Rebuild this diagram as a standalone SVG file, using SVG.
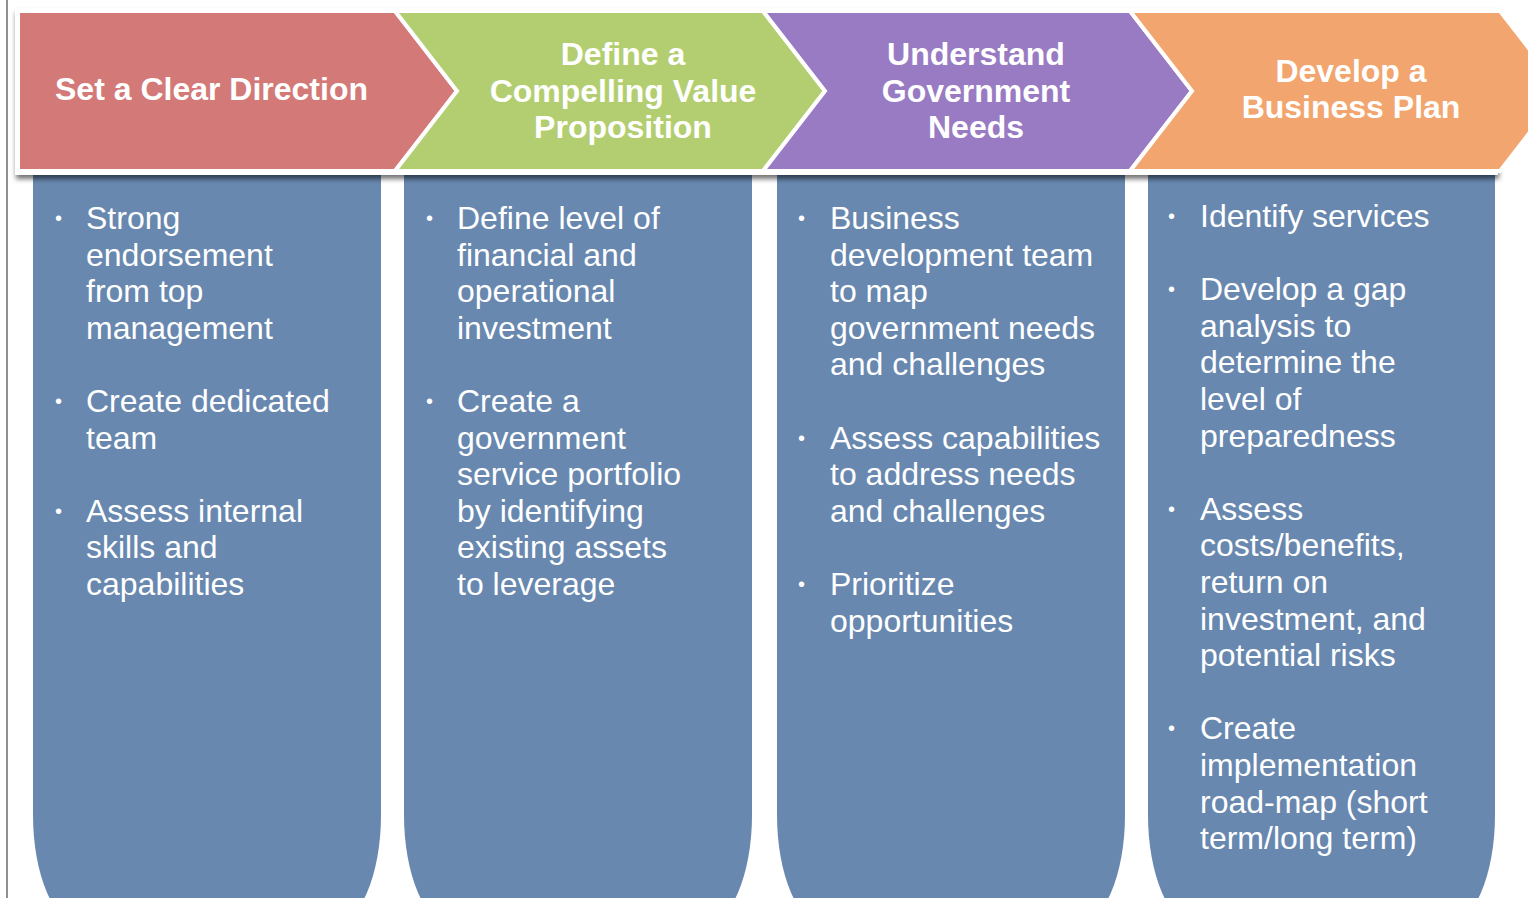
<svg xmlns="http://www.w3.org/2000/svg" width="1528" height="898" viewBox="0 0 1528 898">
<defs>
<filter id="sh" x="-5%" y="-20%" width="110%" height="140%">
<feDropShadow dx="1" dy="4" stdDeviation="2.5" flood-color="#000" flood-opacity="0.55"/>
</filter>
<style>
.col{fill:#6888AF}
.chev{stroke:#fff;stroke-width:4;stroke-linejoin:miter}
.hd{font-family:"Liberation Sans",Arial,sans-serif;font-weight:bold;font-size:32px;fill:#fff}
.bd{font-family:"Liberation Sans",Arial,sans-serif;font-size:32px;fill:#fff}
.bu{font-family:"Liberation Sans",Arial,sans-serif;font-size:20px;fill:#fff}
</style>
</defs>
<rect width="1528" height="898" fill="#fff"/>
<line x1="7" y1="0" x2="7" y2="898" stroke="#6a6a6a" stroke-width="1.5"/>

<g id="columns">
<path class="col" d="M33,172 H381 V815 A48,110 0 0 1 333,925 H81 A48,110 0 0 1 33,815 Z"/>
<path class="col" d="M404,172 H752 V815 A48,110 0 0 1 704,925 H452 A48,110 0 0 1 404,815 Z"/>
<path class="col" d="M777,172 H1125 V815 A48,110 0 0 1 1077,925 H825 A48,110 0 0 1 777,815 Z"/>
<path class="col" d="M1148,172 H1495 V815 A48,110 0 0 1 1447,925 H1196 A48,110 0 0 1 1148,815 Z"/>
</g>

<g id="banner">
<rect x="15" y="8" width="1483" height="167" fill="#fff" filter="url(#sh)"/>
</g>

<g id="step1">
<polygon class="chev" fill="#D37977" points="18,11 395,11 457,91 395,171 18,171"/>
<text class="hd" x="55" y="100">Set a Clear Direction</text>
</g>
<g id="step2">
<polygon class="chev" fill="#B3CE71" points="395,11 763,11 825,91 763,171 395,171 457,91"/>
<text class="hd" text-anchor="middle" x="623" y="65">Define a</text>
<text class="hd" text-anchor="middle" x="623" y="101.5">Compelling Value</text>
<text class="hd" text-anchor="middle" x="623" y="138">Proposition</text>
</g>
<g id="step3">
<polygon class="chev" fill="#997BC4" points="763,11 1130,11 1192,91 1130,171 763,171 825,91"/>
<text class="hd" text-anchor="middle" x="976" y="65">Understand</text>
<text class="hd" text-anchor="middle" x="976" y="101.5">Government</text>
<text class="hd" text-anchor="middle" x="976" y="138">Needs</text>
</g>
<g id="step4">
<polygon class="chev" fill="#F2A56E" points="1130,11 1500,11 1562,91 1500,171 1130,171 1192,91"/>
<text class="hd" text-anchor="middle" x="1351" y="82">Develop a</text>
<text class="hd" text-anchor="middle" x="1351" y="117.5">Business Plan</text>
</g>

<g id="list1">
<text class="bu" x="55" y="225">•</text>
<text class="bu" x="55" y="408">•</text>
<text class="bu" x="55" y="518">•</text>
<text class="bd" x="86" y="229">Strong</text>
<text class="bd" x="86" y="265.6">endorsement</text>
<text class="bd" x="86" y="302.2">from top</text>
<text class="bd" x="86" y="338.8">management</text>
<text class="bd" x="86" y="412">Create dedicated</text>
<text class="bd" x="86" y="448.6">team</text>
<text class="bd" x="86" y="521.8">Assess internal</text>
<text class="bd" x="86" y="558.4">skills and</text>
<text class="bd" x="86" y="595">capabilities</text>
</g>

<g id="list2">
<text class="bu" x="426" y="225">•</text>
<text class="bu" x="426" y="408">•</text>
<text class="bd" x="457" y="229">Define level of</text>
<text class="bd" x="457" y="265.6">financial and</text>
<text class="bd" x="457" y="302.2">operational</text>
<text class="bd" x="457" y="338.8">investment</text>
<text class="bd" x="457" y="412">Create a</text>
<text class="bd" x="457" y="448.6">government</text>
<text class="bd" x="457" y="485.2">service portfolio</text>
<text class="bd" x="457" y="521.8">by identifying</text>
<text class="bd" x="457" y="558.4">existing assets</text>
<text class="bd" x="457" y="595">to leverage</text>
</g>

<g id="list3">
<text class="bu" x="798" y="225">•</text>
<text class="bu" x="798" y="445">•</text>
<text class="bu" x="798" y="591">•</text>
<text class="bd" x="830" y="229">Business</text>
<text class="bd" x="830" y="265.6">development team</text>
<text class="bd" x="830" y="302.2">to map</text>
<text class="bd" x="830" y="338.8">government needs</text>
<text class="bd" x="830" y="375.4">and challenges</text>
<text class="bd" x="830" y="448.6">Assess capabilities</text>
<text class="bd" x="830" y="485.2">to address needs</text>
<text class="bd" x="830" y="521.8">and challenges</text>
<text class="bd" x="830" y="595">Prioritize</text>
<text class="bd" x="830" y="631.6">opportunities</text>
</g>

<g id="list4">
<text class="bu" x="1168" y="223">•</text>
<text class="bu" x="1168" y="296">•</text>
<text class="bu" x="1168" y="516">•</text>
<text class="bu" x="1168" y="735">•</text>
<text class="bd" x="1200" y="227">Identify services</text>
<text class="bd" x="1200" y="300.2">Develop a gap</text>
<text class="bd" x="1200" y="336.8">analysis to</text>
<text class="bd" x="1200" y="373.4">determine the</text>
<text class="bd" x="1200" y="410">level of</text>
<text class="bd" x="1200" y="446.6">preparedness</text>
<text class="bd" x="1200" y="519.8">Assess</text>
<text class="bd" x="1200" y="556.4">costs/benefits,</text>
<text class="bd" x="1200" y="593">return on</text>
<text class="bd" x="1200" y="629.6">investment, and</text>
<text class="bd" x="1200" y="666.2">potential risks</text>
<text class="bd" x="1200" y="739.4">Create</text>
<text class="bd" x="1200" y="776">implementation</text>
<text class="bd" x="1200" y="812.6">road-map (short</text>
<text class="bd" x="1200" y="849.2">term/long term)</text>
</g>
</svg>
